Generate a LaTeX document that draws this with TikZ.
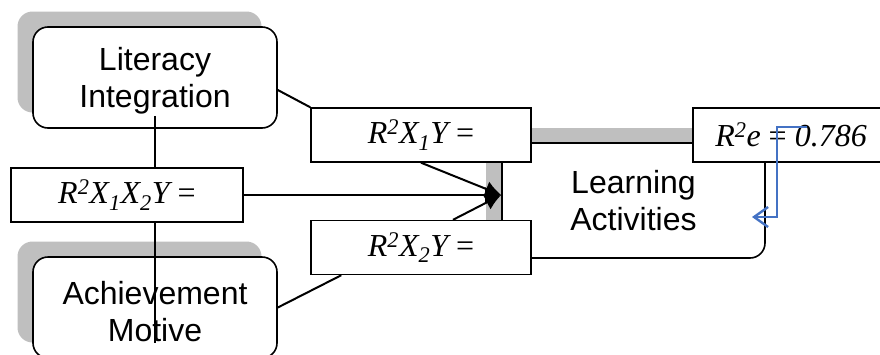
\documentclass[tikz,border=0pt]{standalone}
\usepackage{fontspec}
\setmainfont{Liberation Sans}
\newfontfamily\tnr{Liberation Serif}
\usetikzlibrary{arrows.meta,calc}
\definecolor{shgray}{RGB}{191,191,191}
\definecolor{blueln}{RGB}{68,114,196}
\begin{document}
\begin{tikzpicture}[x=1pt,y=-1pt,
  rbox/.style={draw=black,line width=1.6pt,fill=white,rounded corners=15pt,minimum width=244pt,minimum height=101pt,align=center,font=\fontsize{32}{37}\selectfont,inner sep=0pt},
  lowtext/.style={text depth=0pt},
  shbox/.style={fill=shgray,rounded corners=15pt,minimum width=244pt,minimum height=101pt,inner sep=0pt},
  eqbox/.style={draw=black,line width=1.4pt,fill=white,minimum height=54pt,inner sep=0pt,font=\tnr\itshape\fontsize{32}{36}\selectfont},
  conn/.style={line width=2pt,draw=black},
  tipst/.style={-{Latex[length=16pt,width=16pt]}},
]
\useasboundingbox (0,0) rectangle (880,354);
\clip (0,0) rectangle (880,354);
% shadows
\node[shbox] (lits) at (139.5,62) {};
\node[shbox] (achs) at (139.5,292) {};
\node[shbox, minimum width=263pt, minimum height=115pt] (las) at (617.5,185.5) {};
% main boxes
\node[rbox,lowtext] (lit) at (155,77.5) {Literacy\\Integration};
\node[rbox] (ach) at (155,307.5) {\rule{0pt}{32pt}Achievement\\Motive};
\node[rbox, minimum width=263pt, minimum height=115pt] (la) at (633.5,200.5) {Learning\\Activities};
% equation boxes
\node[eqbox, minimum width=220pt] (r1) at (421,135) {R\textsuperscript{2}X\textsubscript{1}Y {\upshape =}};
\node[eqbox, minimum width=220pt] (r2) at (421,247.5) {R\textsuperscript{2}X\textsubscript{2}Y {\upshape =}};
\node[eqbox, minimum width=232pt] (r12) at (127,195) {R\textsuperscript{2}X\textsubscript{1}X\textsubscript{2}Y {\upshape =}};
\node[eqbox, minimum width=196pt] (re) at (791,135) {R\textsuperscript{2}e {\upshape =} 0.786};
% connectors
\coordinate (tip) at (la.west |- r12.east);
\draw[conn] ([yshift=-12.5pt]lit.east) -- (r1.north west);
\draw[conn] ([yshift=13pt]lit.south) -- (lit.south |- r12.north);
\draw[conn] (lit.south |- r12.south) -- ([yshift=16pt]ach.south);
\draw[conn] (ach.east) -- ([xshift=31pt]r2.south west);
\draw[conn,tipst] (r12.east) -- (tip);
\draw[conn,tipst] (r1.south) -- (tip);
\draw[conn,tipst] ([xshift=32pt]r2.north) -- (tip);
% blue arrow
\coordinate (bs) at (807,127);
\coordinate (be) at (752,217);
\draw[blueln, line width=2.4pt, -{Straight Barb[length=14pt,width=20pt]}] (bs) -| ($(be)+(25,0)$) -- (be);
\end{tikzpicture}
\end{document}
